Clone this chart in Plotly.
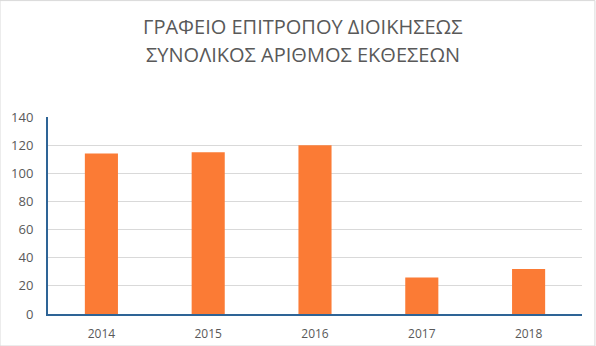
import plotly.graph_objects as go

years = ["2014", "2015", "2016", "2017", "2018"]
reports = [114, 115, 120, 26, 32]
y_ticks = [0, 20, 40, 60, 80, 100, 120, 140]
title_lines = ["ΓΡΑΦΕΙΟ ΕΠΙΤΡΟΠΟΥ ΔΙΟΙΚΗΣΕΩΣ", "ΣΥΝΟΛΙΚΟΣ ΑΡΙΘΜΟΣ ΕΚΘΕΣΕΩΝ"]

FONT = "'Open Sans', Lato, sans-serif"
H_PLOT = 197.0

fig = go.Figure(go.Bar(x=years, y=reports, marker=dict(color="#FB7B35", line=dict(width=0))))

annotations = []
for i, line in enumerate(title_lines):
    ypix = 27 + 28 * i  # centre of line from top
    annotations.append(dict(text=line, xref="paper", yref="paper", x=0.5 - (48 - 14) / 2 / 534 + 0.01,
                            y=1 + (117 - ypix) / H_PLOT, xanchor="center", yanchor="middle",
                            showarrow=False, font=dict(size=20, color="#595959", family=FONT)))

fig.update_layout(
    width=596, height=346,
    margin=dict(l=48, r=14, t=117, b=32, autoexpand=False),
    paper_bgcolor="white", plot_bgcolor="white",
    bargap=0.69,
    showlegend=False,
    font=dict(family=FONT, color="#595959", size=12),
    annotations=annotations,
    xaxis=dict(showgrid=False, showline=True, linecolor="#2E6496", linewidth=2, automargin=False,
               ticks="", ticklabelstandoff=8, tickfont=dict(size=12, color="#595959")),
    yaxis=dict(range=[0, 140], tickvals=y_ticks, showgrid=True, gridcolor="#D9D9D9", gridwidth=1,
               showline=True, linecolor="#2E6496", linewidth=2, zeroline=False, automargin=False,
               ticks="", ticklabelstandoff=10, tickfont=dict(size=13, color="#595959")),
    shapes=[dict(type="rect", xref="paper", yref="paper", x0=-48/534, x1=1+14/534-0.002,
                 y0=-32/H_PLOT, y1=1+117/H_PLOT-0.003, line=dict(color="#D9D9D9", width=1))],
)

fig.write_html("out.html")
